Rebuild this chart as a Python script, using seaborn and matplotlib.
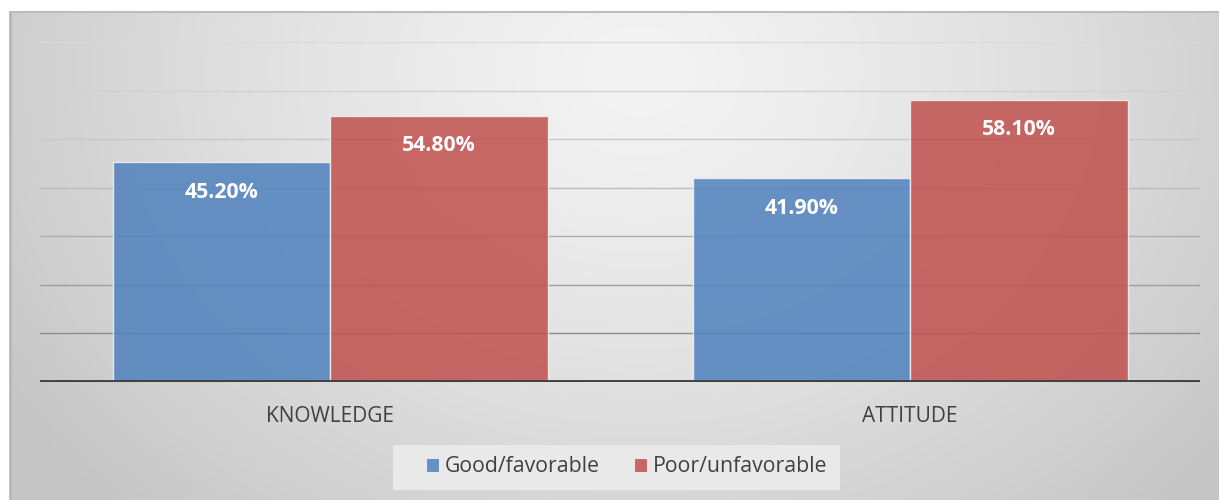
import numpy as np
import pandas as pd
import matplotlib
matplotlib.use("Agg")
import matplotlib.pyplot as plt
from matplotlib.patches import Rectangle
import seaborn as sns

# Survey results (percent of respondents)
domains = ["KNOWLEDGE", "ATTITUDE"]
levels = ["Good/favorable", "Poor/unfavorable"]
good_values = [45.2, 41.9]
poor_values = [54.8, 58.1]
level_colors = ["#4F81BD", "#C0504D"]

df = pd.DataFrame({
    "Domain": domains * 2,
    "Level": [levels[0]] * len(domains) + [levels[1]] * len(domains),
    "Percent": good_values + poor_values,
})

sns.set_theme(style="white")
plt.rcParams["font.family"] = ["Open Sans", "DejaVu Sans"]

W, H = 1219, 500
fig = plt.figure(figsize=(W / 100, H / 100), dpi=100)
fig.patch.set_facecolor("white")

# Chart area backdrop: soft radial gradient
bg_left, bg_top = 10, 12
bg_ax = fig.add_axes([bg_left / W, 0, 1 - bg_left / W, (H - bg_top) / H], zorder=-2)
gw, gh = W - bg_left, H - bg_top
yy, xx = np.mgrid[0:gh, 0:gw]
cx, cy = gw * 0.52, gh * 0.12
r = np.sqrt(((xx - cx) / (gw * 0.62)) ** 2 + ((yy - cy) / (gh * 1.25)) ** 2)
r = np.clip(r, 0, 1)
shade = 0.955 - 0.18 * r ** 1.3
bg_ax.imshow(np.dstack([shade] * 3), aspect="auto", extent=[0, 1, 0, 1], origin="upper")
bg_ax.set_axis_off()
bg_ax.plot([0, 0], [0, 1], color="#B8B8B8", lw=2, transform=bg_ax.transAxes, clip_on=False)
bg_ax.plot([0, 1], [1, 1], color="#BDBDBD", lw=1.5, transform=bg_ax.transAxes, clip_on=False)

# Legend panel
fig.add_artist(Rectangle((393 / W, (H - 490) / H), 447 / W, 45 / H,
                         transform=fig.transFigure, facecolor="#E9E9E9",
                         edgecolor="none", zorder=0))

# Plot area
ax = fig.add_axes([40 / W, (H - 382) / H, 1160 / W, 340 / H])
ax.patch.set_alpha(0)

sns.barplot(data=df, x="Domain", y="Percent", hue="Level", hue_order=levels,
            order=domains, palette=level_colors, width=0.75, alpha=0.85,
            edgecolor="#F2F2F2", linewidth=1.0, saturation=1, legend=False, ax=ax, zorder=3)

ax.set_ylim(0, 70)
ax.set_xlim(-0.5, len(domains) - 0.5)
ax.set_yticks(np.arange(10, 71, 10))
ax.set_yticklabels([])
ax.tick_params(axis="y", length=0)
ax.tick_params(axis="x", length=0, pad=17, labelsize=15, labelcolor="#404040")
ax.set_xlabel("")
ax.set_ylabel("")
for s in ax.spines.values():
    s.set_visible(False)

# Horizontal gridlines, darker toward the baseline
grid_vals = np.arange(10, 71, 10)
grid_cols = ["#8C8C8C", "#9E9E9E", "#ADADAD", "#BCBCBC", "#C8C8C8", "#D2D2D2", "#DADADA"]
for v, c in zip(grid_vals, grid_cols):
    ax.axhline(v, color=c, lw=1.0, zorder=1)
ax.axhline(0, color="#404040", lw=3.5, zorder=4)

for cont in ax.containers:
    ax.bar_label(cont, fmt="{:.2f}%", padding=-29, color="white",
                 fontsize=15.3, fontweight="bold", zorder=5)

handles = [Rectangle((0, 0), 1, 1, facecolor=c, alpha=0.85, edgecolor="#F2F2F2", lw=0.8)
           for c in level_colors]
leg = fig.legend(handles, levels, loc="center", bbox_to_anchor=(627 / W, (H - 467) / H),
                 ncol=2, frameon=False, fontsize=15.3, handlelength=0.6, handleheight=0.6,
                 handletextpad=0.3, columnspacing=1.6, labelcolor="#404040")

fig.savefig("out.png", dpi=100)
